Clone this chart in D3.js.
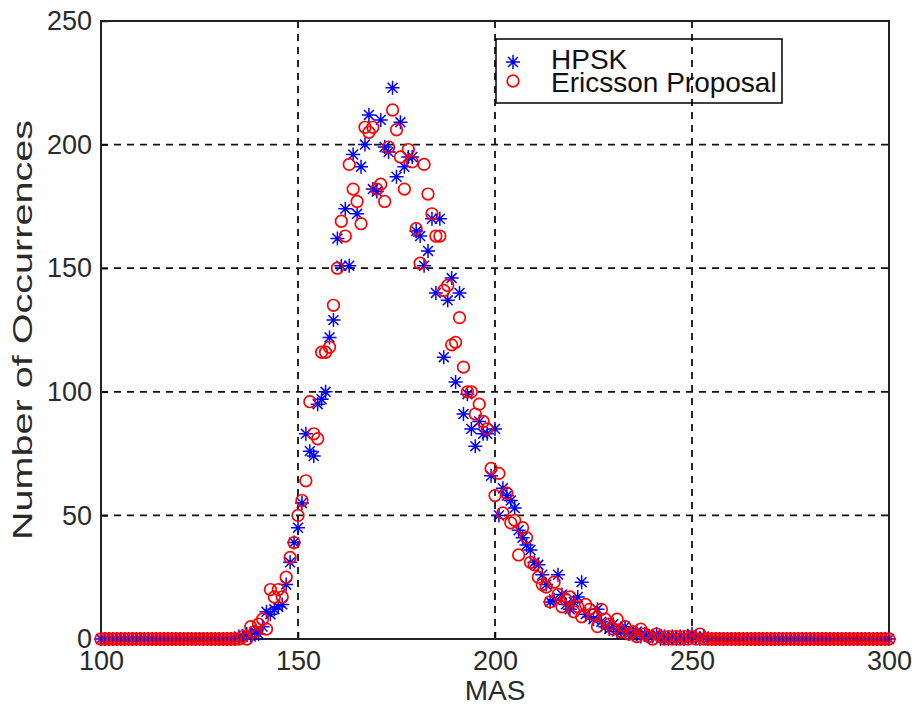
<!DOCTYPE html>
<html>
<head>
<meta charset="utf-8">
<script src="https://cdn.jsdelivr.net/npm/d3@7"></script>
<style>
  body { margin: 0; background: #fff; }
  svg { font-family: "Liberation Sans", Arial, sans-serif; }
</style>
</head>
<body>
<script>
const width = 915;
const height = 712;

// MAS bins, 100..300
const mas = d3.range(100, 301);

// number of occurrences per MAS bin
// prettier-ignore
const hpsk = [
  0,0,0,0,0,0,0,0,0,0, 0,0,0,0,0,0,0,0,0,0,   // 100-119
  0,0,0,0,0,0,0,0,0,0, 0,0,0,0,0,1,1,2,1,3,   // 120-139
  2,5,11,10,12,13,14,22,31,39, 45,55,83,76,74,95,97,100,122,129,   // 140-159
  162,151,174,151,196,172,191,200,212,182, 181,210,199,197,223,187,209,191,195,195,   // 160-179
  165,163,151,157,170,140,170,114,137,146, 104,140,91,99,85,78,88,83,83,66,   // 180-199
  85,50,61,58,56,53,44,41,38,36, 31,30,26,22,15,16,26,18,14,12,   // 200-219
  15,17,23,10,9,8,12,7,5,4, 6,3,3,5,2,2,3,1,2,1,   // 220-239
  1,2,0,1,0,1,0,1,0,1, 2,1,0,1,0,0,0,0,0,0,   // 240-259
  0,0,0,0,0,0,0,0,0,0, 0,0,0,0,0,0,0,0,0,0,   // 260-279
  0,0,0,0,0,0,0,0,0,0, 0,0,0,0,0,0,0,0,0,0,   // 280-299
  0                                             // 300
];

// prettier-ignore
const ericsson = [
  0,0,0,0,0,0,0,0,0,0, 0,0,0,0,0,0,0,0,0,0,   // 100-119
  0,0,0,0,0,0,0,0,0,0, 0,0,0,0,0,0,1,0,5,3,   // 120-139
  6,8,4,20,17,20,17,25,33,39, 50,56,64,96,83,81,116,116,118,135,   // 140-159
  150,169,163,192,182,177,168,207,205,207, 182,184,177,199,214,206,195,182,198,193,   // 160-179
  166,152,192,180,172,163,163,141,143,119, 120,130,110,100,100,91,95,88,85,69,   // 180-199
  58,67,51,59,47,48,34,45,41,31, 30,25,22,21,15,23,18,13,16,17,   // 200-219
  11,13,9,14,12,10,5,12,8,6, 4,8,3,5,2,3,1,4,2,1,   // 220-239
  0,2,1,0,1,0,1,0,1,0, 1,0,2,0,0,0,0,0,0,0,   // 240-259
  0,0,0,0,0,0,0,0,0,0, 0,0,0,0,0,0,0,0,0,0,   // 260-279
  0,0,0,0,0,0,0,0,0,0, 0,0,0,0,0,0,0,0,0,0,   // 280-299
  0                                             // 300
];

const xTicks = [100, 150, 200, 250, 300];
const yTicks = [0, 50, 100, 150, 200, 250];
const seriesNames = ["HPSK", "Ericsson Proposal"];

let margin = { top: 21, right: 26, bottom: 73, left: 101 };

let svg = d3
  .select("body")
  .append("svg")
  .attr("width", width)
  .attr("height", height);

let xScale = d3
  .scaleLinear()
  .domain([100, 300])
  .range([margin.left, width - margin.right]);

let yScale = d3
  .scaleLinear()
  .domain([0, 250])
  .range([height - margin.bottom, margin.top]);

// dashed grid
let grid = svg.append("g").attr("stroke", "#111").attr("stroke-width", 1.8)
  .attr("stroke-dasharray", "7,6");

grid.selectAll("line.gx")
  .data(xTicks.slice(1, -1))
  .join("line")
  .attr("class", "gx")
  .attr("x1", (d) => xScale(d))
  .attr("x2", (d) => xScale(d))
  .attr("y1", yScale(250))
  .attr("y2", yScale(0));

grid.selectAll("line.gy")
  .data(yTicks.slice(1, -1))
  .join("line")
  .attr("class", "gy")
  .attr("x1", xScale(100))
  .attr("x2", xScale(300))
  .attr("y1", (d) => yScale(d))
  .attr("y2", (d) => yScale(d));

// axes
let bottomAxis = d3.axisBottom(xScale).tickValues(xTicks).tickSize(-7).tickPadding(12);
let leftAxis = d3.axisLeft(yScale).tickValues(yTicks).tickSize(-7).tickPadding(9);

let bottomContainer = svg.append("g")
  .attr("transform", `translate(0, ${yScale(0)})`)
  .call(bottomAxis);

let leftContainer = svg.append("g")
  .attr("transform", `translate(${xScale(100)}, 0)`)
  .call(leftAxis);

[bottomContainer, leftContainer].forEach((g) => {
  g.select(".domain").remove();
  g.selectAll("line").attr("stroke", "#000").attr("stroke-width", 1.5);
  g.selectAll("text").style("font-size", "27px").attr("fill", "#2a2a2a");
});

// box
svg.append("rect")
  .attr("x", xScale(100))
  .attr("y", yScale(250))
  .attr("width", xScale(300) - xScale(100))
  .attr("height", yScale(0) - yScale(250))
  .attr("fill", "none")
  .attr("stroke", "#222")
  .attr("stroke-width", 2);

// markers
const starPath = (r) => {
  let d = r * Math.SQRT1_2;
  return `M${-r},0L${r},0M0,${-r}L0,${r}M${-d},${-d}L${d},${d}M${-d},${d}L${d},${-d}`;
};

svg.append("g")
  .selectAll("path")
  .data(mas.map((m, i) => [m, hpsk[i]]))
  .join("path")
  .attr("transform", (d) => `translate(${xScale(d[0])},${yScale(d[1])})`)
  .attr("d", starPath(7))
  .attr("stroke", "#0000ff")
  .attr("stroke-width", 1.5)
  .attr("fill", "none");

svg.append("g")
  .selectAll("circle")
  .data(mas.map((m, i) => [m, ericsson[i]]))
  .join("circle")
  .attr("cx", (d) => xScale(d[0]))
  .attr("cy", (d) => yScale(d[1]))
  .attr("r", 5.8)
  .attr("stroke", "#ff0000")
  .attr("stroke-width", 1.7)
  .attr("fill", "none");

// axis labels
svg.append("text")
  .text("MAS")
  .attr("x", (xScale(100) + xScale(300)) / 2)
  .attr("y", 700)
  .attr("text-anchor", "middle")
  .style("font-size", "28px")
  .attr("fill", "#2a2a2a");

svg.append("text")
  .text("Number of Occurrences")
  .attr("text-anchor", "middle")
  .attr("textLength", 420)
  .attr("lengthAdjust", "spacingAndGlyphs")
  .style("font-size", "27px")
  .attr("fill", "#2a2a2a")
  .attr("transform", `translate(32, ${(yScale(0) + yScale(250)) / 2}) rotate(270)`);

// legend
let legend = svg.append("g").attr("transform", "translate(496, 39)");

legend.append("rect")
  .attr("width", 286)
  .attr("height", 64)
  .attr("fill", "none")
  .attr("stroke", "#000")
  .attr("stroke-width", 1.5);

legend.append("path")
  .attr("transform", "translate(17, 23)")
  .attr("d", starPath(7))
  .attr("stroke", "#0000ff")
  .attr("stroke-width", 1.5);

legend.append("circle")
  .attr("cx", 17)
  .attr("cy", 42)
  .attr("r", 5.8)
  .attr("fill", "none")
  .attr("stroke", "#ff0000")
  .attr("stroke-width", 1.7);

legend.selectAll("text")
  .data(seriesNames)
  .join("text")
  .text((d) => d)
  .attr("x", 55)
  .attr("y", (d, i) => 30 + i * 23)
  .style("font-size", "28px")
  .attr("fill", "#111");
</script>
</body>
</html>
